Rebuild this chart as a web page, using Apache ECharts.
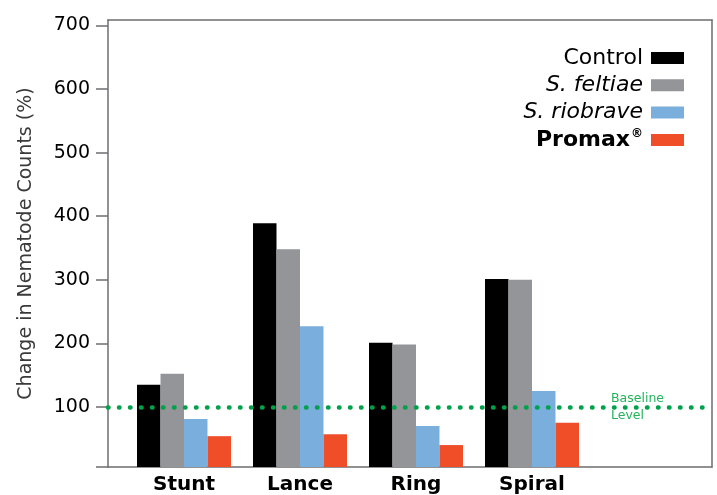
<!DOCTYPE html>
<html>
<head>
<meta charset="utf-8">
<script src="https://cdn.jsdelivr.net/npm/echarts@6/dist/echarts.min.js"></script>
<style>
  html, body { margin: 0; padding: 0; background: #ffffff; }
  #chart { width: 717px; height: 495px; }
</style>
</head>
<body>
<div id="chart"></div>
<script>
// ---- data ----
const categories = ['Stunt', 'Lance', 'Ring', 'Spiral', ''];
const seriesNames = ['Control', 'S. feltiae', 'S. riobrave', 'Promax®'];
const controlValues  = [135, 389, 201, 301];
const feltiaeValues  = [152, 348, 198, 300];
const riobraveValues = [81, 227, 70, 125];
const promaxValues   = [54, 57, 40, 75];
const baselineValue = 100;
const yTickLabels = [100, 200, 300, 400, 500, 600, 700];
const yMin = 5.5, yMax = 708.5;

const colors = ['#000000', '#939598', '#7aafdd', '#f04e29'];
const font = 'DejaVu Sans';
const frameColor = '#6d6e71';

const chart = echarts.init(document.getElementById('chart'), null, { renderer: 'canvas' });

const barValues = [controlValues, feltiaeValues, riobraveValues, promaxValues];
const barSeries = seriesNames.map((name, i) => ({
  name: name,
  type: 'bar',
  xAxisIndex: 0,
  yAxisIndex: 0,
  data: barValues[i],
  barWidth: 23.5,
  barGap: '0%',
  itemStyle: { color: colors[i] },
  emphasis: { disabled: true },
  animation: false
}));

const legendStyles = [
  { fontStyle: 'normal', fontWeight: 'normal' },
  { fontStyle: 'italic', fontWeight: 'normal' },
  { fontStyle: 'italic', fontWeight: 'normal' },
  { fontStyle: 'normal', fontWeight: 'bold' }
];

const option = {
  animation: false,
  backgroundColor: '#ffffff',
  grid: [
    { left: 126, right: 11, top: 20, bottom: 28, containLabel: false },
    { left: 108, right: 5, top: 20, bottom: 28, containLabel: false }
  ],
  legend: {
    orient: 'vertical',
    right: 28,
    top: 41,
    align: 'right',
    itemWidth: 33,
    itemHeight: 12,
    itemGap: 3.3,
    icon: 'rect',
    selectedMode: false,
    data: seriesNames.map((n, i) => ({
      name: n,
      textStyle: Object.assign({
        fontFamily: font, fontSize: 22, color: '#000', lineHeight: 24,
        padding: [0, 3, 0, 0]
      }, legendStyles[i])
    })),
    formatter: function (name) {
      return name === 'Promax®' ? 'Promax{r|®}' : name;
    },
    textStyle: {
      fontFamily: font, fontSize: 22, color: '#000', lineHeight: 24,
      rich: {
        r: { fontFamily: font, fontSize: 12, fontWeight: 'bold', color: '#000', verticalAlign: 'top', lineHeight: 24, padding: [0, 0, 8, 1] }
      }
    }
  },
  xAxis: [
    {
      gridIndex: 0,
      type: 'category',
      data: categories,
      boundaryGap: true,
      axisLine: { show: false },
      axisTick: { show: false },
      axisLabel: {
        fontFamily: font, fontSize: 20, fontWeight: 'bold', color: '#000', margin: 8
      },
      splitLine: { show: false }
    },
    {
      gridIndex: 1,
      type: 'value',
      min: 0, max: 1,
      axisLine: { show: true, onZero: false, lineStyle: { color: frameColor, width: 1.5 } },
      axisTick: { show: false },
      axisLabel: { show: false },
      splitLine: { show: false }
    },
    {
      gridIndex: 1,
      type: 'value',
      position: 'top',
      min: 0, max: 1,
      axisLine: { show: true, onZero: false, lineStyle: { color: frameColor, width: 1.5 } },
      axisTick: { show: false },
      axisLabel: { show: false },
      splitLine: { show: false }
    }
  ],
  yAxis: [
    {
      gridIndex: 0,
      type: 'value',
      min: yMin, max: yMax,
      show: false,
      splitLine: { show: false }
    },
    {
      gridIndex: 1,
      type: 'value',
      min: yMin, max: yMax,
      name: 'Change in Nematode Counts (%)',
      nameLocation: 'middle',
      nameGap: 72,
      nameTextStyle: { fontFamily: font, fontSize: 19, color: '#3a3a3a' },
      axisLine: { show: true, onZero: false, lineStyle: { color: frameColor, width: 1.5 } },
      axisTick: {
        show: true, inside: false, length: 12,
        customValues: [yMin].concat(yTickLabels),
        lineStyle: { color: frameColor, width: 1.5 }
      },
      axisLabel: {
        fontFamily: font, fontSize: 19, color: '#000', margin: 18,
        customValues: yTickLabels,
        formatter: function (v) { return String(v); }
      },
      splitLine: { show: false }
    },
    {
      gridIndex: 1,
      type: 'value',
      position: 'right',
      min: yMin, max: yMax,
      axisLine: { show: true, onZero: false, lineStyle: { color: frameColor, width: 1.5 } },
      axisTick: { show: false },
      axisLabel: { show: false },
      splitLine: { show: false }
    }
  ],
  series: barSeries.concat([
    {
      name: 'baseline',
      type: 'line',
      xAxisIndex: 1,
      yAxisIndex: 1,
      data: [],
      silent: true,
      markLine: {
        silent: true,
        symbol: ['none', 'none'],
        animation: false,
        lineStyle: { color: '#00a14b', width: 4.5, type: [0.5, 10.5], cap: 'round' },
        label: {
          show: true,
          position: 'insideEndTop',
          formatter: 'Baseline\nLevel',
          fontFamily: font,
          fontSize: 12.5,
          lineHeight: 17,
          color: '#22b35a',
          align: 'left',
          distance: [101, -17]
        },
        emphasis: { disabled: true },
        data: [{ yAxis: baselineValue }]
      }
    }
  ])
};

chart.setOption(option);
</script>
</body>
</html>
